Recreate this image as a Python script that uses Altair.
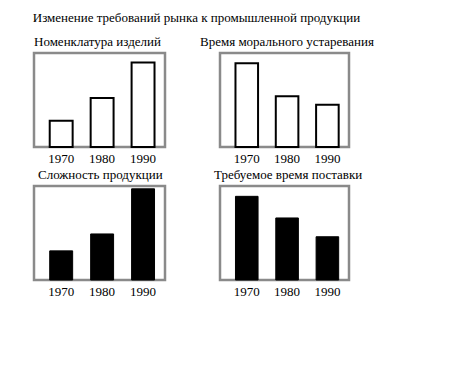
import altair as alt
import pandas as pd

years = ["1970", "1980", "1990"]
nomenclature = [28, 52, 90]
obsolescence = [89, 54, 45]
complexity = [31, 49, 97]
delivery = [89, 66, 46]

main_title = "Изменение требований рынка к промышленной продукции"
titles = [
    "Номенклатура изделий",
    "Время морального устаревания",
    "Сложность продукции",
    "Требуемое время поставки",
]

FONT = "Liberation Serif"
BORDER = "#8a8a8a"


def panel(values, title, filled, width, title_dx):
    df = pd.DataFrame({"year": years, "value": values})
    if filled:
        base = alt.Chart(df).mark_bar(fill="black", stroke="black", strokeWidth=1)
    else:
        base = alt.Chart(df).mark_bar(fill="white", stroke="black", strokeWidth=2)
    return base.encode(
        x=alt.X(
            "year:N",
            title=None,
            sort=years,
            scale=alt.Scale(paddingInner=0.44, paddingOuter=0.32, align=0.6),
            axis=alt.Axis(
                labelAngle=0,
                ticks=False,
                domain=False,
                labelFont=FONT,
                labelFontSize=13,
                labelColor="black",
                labelPadding=5,
            ),
        ),
        y=alt.Y("value:Q", scale=alt.Scale(domain=[0, 100]), axis=None),
    ).properties(
        width=width,
        height=94,
        view=alt.ViewBackground(stroke=BORDER, strokeWidth=2.5, fill="white"),
        title=alt.TitleParams(
            title,
            anchor="start",
            dx=title_dx,
            fontSize=13,
            font=FONT,
            fontWeight="normal",
            color="black",
            offset=4,
        ),
    )


p1 = panel(nomenclature, titles[0], False, 131, 0)
p2 = panel(obsolescence, titles[1], False, 129, -20)
p3 = panel(complexity, titles[2], True, 131, 4)
p4 = panel(delivery, titles[3], True, 129, -6)

chart = (
    alt.concat(p1, p2, p3, p4, columns=2)
    .properties(
        spacing={"row": 39, "column": 55},
        bounds="flush",
        title=alt.TitleParams(
            main_title,
            anchor="start",
            fontSize=13,
            font=FONT,
            fontWeight="normal",
            color="black",
            offset=10,
        ),
        padding={"left": 24, "top": 3, "right": 5, "bottom": 5},
    )
    .configure_view(stroke=BORDER, strokeWidth=2.5)
    .configure(background="white")
)

chart.save("out.html", embed_options={"renderer": "svg", "actions": False})
